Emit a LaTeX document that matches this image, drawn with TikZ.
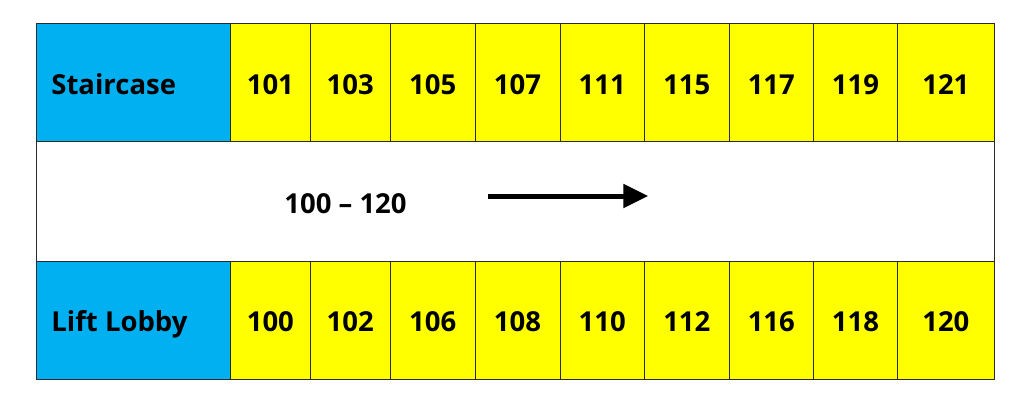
\documentclass[tikz,border=0pt]{standalone}
\usepackage{fontspec}
\setmainfont{Open Sans}
\usetikzlibrary{arrows.meta}
\definecolor{cellblue}{HTML}{00B0F0}
\definecolor{cellyellow}{HTML}{FFFF00}
\definecolor{gridline}{HTML}{2B2B2B}
\begin{document}
\begin{tikzpicture}[x=1pt,y=-1pt,
  cell/.style={draw=gridline,line width=1pt,inner sep=0pt,outer sep=0pt},
  lbl/.style={font=\fontsize{27.5}{32}\selectfont\bfseries,inner sep=0pt,anchor=base}]
\useasboundingbox (0,0) rectangle (1024,408);
% outer frame / middle corridor
\node[cell,fill=white,minimum width=958pt,minimum height=120pt] (mid) at (515,201) {};
% staircase and lift lobby
\node[cell,fill=cellblue,minimum width=194.7pt,minimum height=117.7pt] (stair) at (133.35,82.15) {};
\node[cell,fill=cellblue,minimum width=194.7pt,minimum height=118.3pt] (lift) at (133.35,320.15) {};
\node[lbl,anchor=base west] (stairtxt) at (51.2,94) {Staircase};
\node[lbl,anchor=base west] (lifttxt) at (51.2,331.7) {Lift Lobby};
% room cells
\def\xs{{230.7,310,390.3,475,560,644.3,729.3,813.3,897.7,994}}
\foreach \top/\bot [count=\i from 0] in {101/100,103/102,105/106,107/108,111/110,115/112,117/116,119/118,121/120}{
  \pgfmathsetmacro\xl{\xs[\i]}
  \pgfmathsetmacro\xr{\xs[\i+1]}
  \pgfmathsetmacro\xc{(\xl+\xr)/2}
  \pgfmathsetmacro\w{\xr-\xl}
  \node[cell,fill=cellyellow,minimum width=\w pt,minimum height=117.7pt] (t\i) at (\xc,82.15) {};
  \node[lbl] (tt\i) at (\xc,94) {\top};
  \node[cell,fill=cellyellow,minimum width=\w pt,minimum height=118.3pt] (b\i) at (\xc,320.15) {};
  \node[lbl] (bt\i) at (\xc,331.7) {\bot};
}
% corridor label and arrow
\node[lbl] (range) at (345.5,213.3) {100 -- 120};
\coordinate (a1) at (487.7,196);
\coordinate (a2) at (648.3,196);
\draw[line width=5pt,-{Triangle[length=25pt,width=23pt]}] (a1) -- (a2);
\end{tikzpicture}
\end{document}
